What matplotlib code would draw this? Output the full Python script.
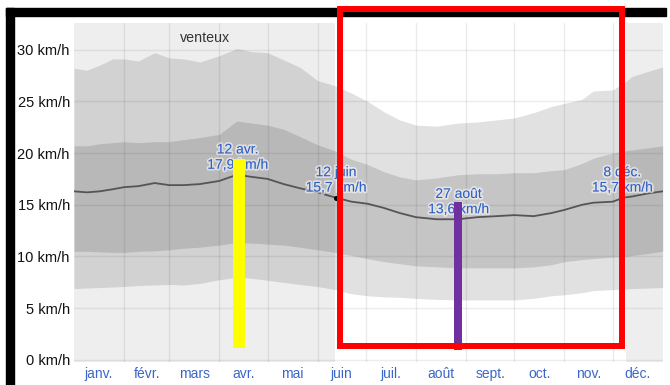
import matplotlib
matplotlib.use("Agg")
import matplotlib.pyplot as plt
import matplotlib.patheffects as pe
from matplotlib.patches import Rectangle

plt.rcParams['font.family'] = ['Liberation Sans', 'DejaVu Sans']

# Day of year for each sample of the wind-speed percentiles
days = [0, 8, 16, 24, 31, 40, 50, 59, 68, 78, 90, 101, 110, 120, 130, 140, 151,
        162, 172, 182, 192, 202, 212, 225, 238, 250, 262, 273, 285, 296, 304,
        315, 322, 334, 341, 346, 356, 365]

# Hourly average wind speed, km/h
p90 = [28.2, 28.0, 28.5, 29.1, 29.1, 28.9, 29.7, 29.2, 29.1, 28.8, 29.4, 30.1,
       29.8, 29.7, 29.0, 28.3, 27.0, 26.5, 25.8, 25.0, 24.0, 23.2, 22.7, 22.6,
       22.9, 23.0, 23.2, 23.4, 23.9, 24.5, 24.8, 25.2, 26.0, 26.1, 26.8, 27.4,
       27.9, 28.3]
p75 = [20.7, 20.7, 20.9, 21.0, 21.1, 21.0, 21.1, 21.1, 21.3, 21.5, 21.8, 23.1,
       22.9, 22.7, 22.3, 21.6, 20.8, 20.2, 19.4, 18.9, 18.2, 17.7, 17.4, 17.6,
       17.9, 18.0, 18.0, 18.1, 18.1, 18.3, 18.4, 19.0, 19.5, 20.0, 20.2, 20.3,
       20.5, 20.7]
median = [16.3, 16.2, 16.3, 16.5, 16.7, 16.8, 17.1, 16.9, 16.9, 17.0, 17.3, 17.9,
          17.7, 17.5, 17.0, 16.6, 16.2, 15.7, 15.3, 15.1, 14.7, 14.2, 13.8, 13.6,
          13.6, 13.8, 13.9, 14.0, 13.9, 14.2, 14.5, 15.0, 15.2, 15.3, 15.7, 15.8,
          16.1, 16.3]
p25 = [10.5, 10.5, 10.45, 10.4, 10.4, 10.5, 10.55, 10.65, 10.8, 10.9, 11.1, 11.35,
       11.3, 11.2, 11.1, 10.9, 10.65, 10.4, 10.1, 9.8, 9.5, 9.3, 9.1, 9.0, 8.9,
       8.9, 8.9, 8.9, 9.0, 9.2, 9.5, 9.7, 9.8, 9.95, 10.0, 10.1, 10.3, 10.5]
p10 = [6.9, 6.95, 7.0, 7.05, 7.1, 7.2, 7.25, 7.3, 7.25, 7.4, 7.75, 8.0, 7.9, 7.7,
       7.5, 7.3, 7.1, 6.8, 6.4, 6.2, 6.1, 6.05, 5.95, 5.85, 5.8, 5.8, 5.8, 5.8,
       5.95, 6.2, 6.3, 6.5, 6.7, 6.8, 6.85, 6.9, 6.95, 7.0]

month_labels = ["janv.", "févr.", "mars", "avr.", "mai", "juin",
                "juil.", "août", "sept.", "oct.", "nov.", "déc."]
month_lengths = [31, 28, 31, 30, 31, 30, 31, 31, 30, 31, 30, 31]
y_ticks = [0, 5, 10, 15, 20, 25, 30]

# Calmer season (12 juin - 8 déc.) on a white background
calm_season = (162, 342)
windy_label = "venteux"
windy_label_day = 81

# Extremes and season boundaries of the median
ann_dates = ["12 avr.", "12 juin", "27 août", "8 déc."]
ann_days = [101.5, 162.5, 238.5, 340.0]
ann_values = [17.9, 15.7, 13.6, 15.7]

# Highlight bars at the windiest and calmest days
bar_days = [102.3, 238.0]
bar_tops = [19.4, 15.3]
bar_bottoms = [1.2, 1.0]
bar_widths = [7.3, 4.8]
bar_colors = ['#ffff00', '#7030a0']

# Highlight frame around the calm season
frame_days = (164.7, 339.9)
frame_kmh = (1.33, 33.9)

W, H = 670, 385
fig = plt.figure(figsize=(W / 100, H / 100), dpi=100)
fig.patch.set_facecolor('white')
ax = fig.add_axes([74 / W, 1 - 361.5 / H, 588.7 / W, (361.5 - 22.7) / H])
ax.set_xlim(0, 365)
ax.set_ylim(-0.15, 32.6)
ax.set_facecolor('#eeeeee')
for s in ax.spines.values():
    s.set_visible(False)

ax.axvspan(calm_season[0], calm_season[1], color='white', lw=0, zorder=0.5)

ax.fill_between(days, p10, p90, color='black', alpha=0.117, lw=0, zorder=1)
ax.fill_between(days, p25, p75, color='black', alpha=0.123, lw=0, zorder=1.1)

# grid
bounds = [0]
for m in month_lengths:
    bounds.append(bounds[-1] + m)
for y in y_ticks:
    ax.axhline(y, color='black', alpha=0.07, lw=1, zorder=2)
for b in bounds[1:-1]:
    ax.axvline(b, color='black', alpha=0.08, lw=1, zorder=2)

ax.plot(days, median, color='#555555', lw=1.3, zorder=3)

centers = [(bounds[i] + bounds[i + 1]) / 2 for i in range(12)]
ax.set_xticks(centers, month_labels)
ax.set_yticks(y_ticks, [f"{v} km/h" for v in y_ticks])
ax.tick_params(axis='y', length=0, pad=3, labelsize=10.5, labelcolor='#111111')
ax.tick_params(axis='x', length=0, pad=4, labelsize=10, labelcolor='#3a67c7')

ax.text(windy_label_day, 0.954, windy_label, transform=ax.get_xaxis_transform(),
        ha='center', va='center', fontsize=10.3, color='#333333', zorder=4)

halo = [pe.withStroke(linewidth=2.5, foreground=(1, 1, 1, 0.55))]
for d, x, v in zip(ann_dates, ann_days, ann_values):
    ax.plot([x], [v], 'o', ms=2.6, color='black', zorder=3.5)
    txt = d + "\n" + f"{v:.1f}".replace('.', ',') + " km/h"
    ax.annotate(txt, xy=(x, v), xytext=(0, 3), textcoords='offset pixels',
                ha='center', va='bottom', fontsize=10, color='#3160c4',
                linespacing=1.12, zorder=4, path_effects=halo)

ax.bar(bar_days, [t - b for t, b in zip(bar_tops, bar_bottoms)], bottom=bar_bottoms,
       width=bar_widths, color=bar_colors, lw=0, zorder=5)

frame = Rectangle((frame_days[0], frame_kmh[0]), frame_days[1] - frame_days[0],
                  frame_kmh[1] - frame_kmh[0], fill=False, ec='#ff0000',
                  lw=4.3, joinstyle='miter', zorder=6, clip_on=False)
ax.add_patch(frame)

# black edge along the left and top
fig.patches.append(Rectangle((6 / W, 0), 8 / W, (H - 8) / H, transform=fig.transFigure,
                             color='black', zorder=-1))
fig.patches.append(Rectangle((6 / W, 1 - 16 / H), 660 / W, 8 / H, transform=fig.transFigure,
                             color='black', zorder=-1))

fig.savefig('out.png', dpi=100)
